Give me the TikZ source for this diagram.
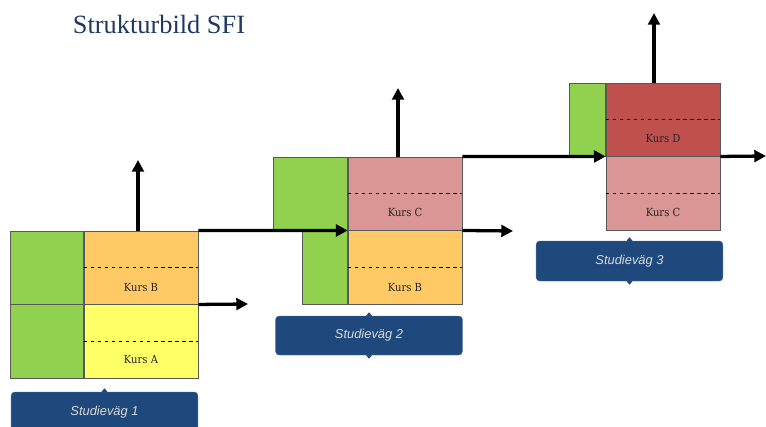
\documentclass[tikz,border=0pt]{standalone}
\usepackage{fontspec}
\setmainfont{Liberation Serif}
\setsansfont{Liberation Sans}
\newfontfamily\kursfont{DejaVu Serif Condensed}
\usepackage{xcolor}
\usetikzlibrary{arrows.meta, positioning}

\definecolor{gron}{HTML}{92D050}
\definecolor{kursA}{HTML}{FFFF66}
\definecolor{kursB}{HTML}{FFC966}
\definecolor{kursC}{HTML}{DA9694}
\definecolor{kursD}{HTML}{C0504D}
\definecolor{vagbla}{HTML}{1F497D}
\definecolor{titelbla}{HTML}{203864}

\begin{document}
\begin{tikzpicture}[x=0.03cm, y=-0.03cm,
    cell/.style={draw=black!65, line width=0.5pt, inner sep=0pt,
        minimum width=3.42cm, minimum height=2.2cm},
    gronbox/.style={cell, fill=gron, minimum width=#1},
    kurs/.style={font=\kursfont\fontsize{9.5}{11}\selectfont, text=black!85, inner sep=1pt},
    vag/.style={fill=vagbla, draw=vagbla!80!white, rounded corners=3pt,
        minimum width=5.6cm, minimum height=1.2cm,
        font=\sffamily\itshape\fontsize{11}{13}\selectfont, text=black!15},
    arr/.style={line width=2.8pt, -{Triangle[length=10pt,width=10pt]}}]

    \useasboundingbox (0,0) rectangle (766,427);

    \node[font=\fontsize{22.5}{26}\selectfont, text=titelbla] (titel) at (159,24) {Strukturbild SFI};

    % Studievag 1
    \node[cell, fill=kursB] (kb1) at (141,267.5) {};
    \node[cell, fill=kursA, below=0pt of kb1] (ka1) {};
    \node[gronbox=2.19cm, left=0pt of kb1] (g1a) {};
    \node[gronbox=2.19cm, left=0pt of ka1] (g1b) {};
    \draw[dashed] (kb1.west) -- (kb1.east);
    \draw[dashed] (ka1.west) -- (ka1.east);
    \node[kurs] (tb1) at ([yshift=0.5cm]kb1.south) {Kurs B};
    \node[kurs] (ta1) at ([yshift=0.58cm]ka1.south) {Kurs A};
    \node[vag] (s1) at (104.5,412) {Studieväg 1};
    \fill[vagbla] ([xshift=-2.5pt]s1.north) -- ++(2.5pt,3pt) -- ++(2.5pt,-3pt) -- cycle;

    % Studievag 2
    \node[cell, fill=kursC] (kc2) at (405,193.5) {};
    \node[cell, fill=kursB, below=0pt of kc2] (kb2) {};
    \node[gronbox=2.22cm, left=0pt of kc2] (g2a) {};
    \node[gronbox=1.35cm, left=0pt of kb2] (g2b) {};
    \draw[dashed] (kc2.west) -- (kc2.east);
    \draw[dashed] (kb2.west) -- (kb2.east);
    \node[kurs] (tc2) at ([yshift=0.55cm]kc2.south) {Kurs C};
    \node[kurs] (tb2) at ([yshift=0.5cm]kb2.south) {Kurs B};
    \node[vag, minimum height=1.17cm] (s2) at (369,335.5) {Studieväg 2};
    \fill[vagbla] ([xshift=-2.5pt]s2.north) -- ++(2.5pt,3pt) -- ++(2.5pt,-3pt) -- cycle;
    \fill[vagbla] ([xshift=-2.5pt]s2.south) -- ++(2.5pt,-3pt) -- ++(2.5pt,3pt) -- cycle;

    % Studievag 3
    \node[cell, fill=kursD] (kd3) at (663,119.5) {};
    \node[cell, fill=kursC, below=0pt of kd3] (kc3) {};
    \node[gronbox=1.08cm, left=0pt of kd3] (g3a) {};
    \draw[dashed] (kd3.west) -- (kd3.east);
    \draw[dashed] (kc3.west) -- (kc3.east);
    \node[kurs] (td3) at ([yshift=0.55cm]kd3.south) {Kurs D};
    \node[kurs] (tc3) at ([yshift=0.55cm]kc3.south) {Kurs C};
    \node[vag] (s3) at (629.5,261) {Studieväg 3};
    \fill[vagbla] ([xshift=-2.5pt]s3.north) -- ++(2.5pt,3pt) -- ++(2.5pt,-3pt) -- cycle;
    \fill[vagbla] ([xshift=-2.5pt]s3.south) -- ++(2.5pt,-3pt) -- ++(2.5pt,3pt) -- cycle;

    % pilar
    \coordinate (u1) at (138,160);
    \coordinate (u2) at (398,88);
    \coordinate (u3) at (654,13);
    \coordinate (r1) at (248,304);
    \coordinate (r2) at (513,231);
    \coordinate (r3) at (766,156);
    \draw[arr] (kb1.north -| u1) -- (u1);
    \draw[arr] (kc2.north -| u2) -- (u2);
    \draw[arr] (kd3.north -| u3) -- (u3);
    \draw[arr] (kb1.north east) -- (kc2.south west);
    \draw[arr] (kc2.north east) -- (kd3.south west);
    \draw[arr] (ka1.north east) -- (r1);
    \draw[arr] (kb2.north east) -- (r2);
    \draw[arr] (kd3.south east) -- (r3);
\end{tikzpicture}
\end{document}
